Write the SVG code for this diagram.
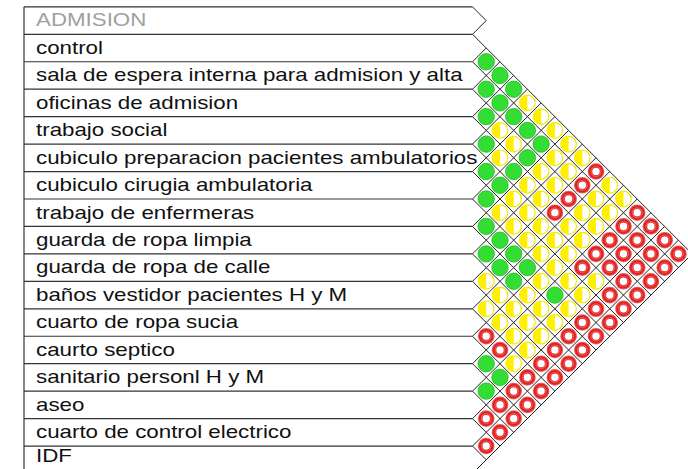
<svg xmlns="http://www.w3.org/2000/svg" xmlns:xlink="http://www.w3.org/1999/xlink" width="688" height="469" viewBox="0 0 688 469">
<style>
.row line{stroke:#333;stroke-width:1.2}
.lbl{font-family:"Liberation Sans",Arial,sans-serif;font-size:18.6px;fill:#111}
.hdr{fill:#a0a0a0}
#grid path{stroke:#222;stroke-width:1;fill:none}
</style>
<defs>
<g id="G"><circle r="8.2" fill="#33dd33" stroke="#22bb22" stroke-width="0.8"/></g>
<g id="Y"><circle r="7.8" fill="#fff" stroke="#f2ea00" stroke-width="1.2"/><path d="M0,-7.8A7.8,7.8 0 0 0 0,7.8Z" fill="#fff000"/></g>
<g id="R"><circle r="8.3" fill="#f05656"/><circle r="6.4" fill="none" stroke="#dd2222" stroke-width="1.8"/><circle r="4.1" fill="#fff" stroke="#dd2222" stroke-width="0.8"/></g>
</defs>
<rect width="688" height="469" fill="#fff"/>
<g id="rows" class="row">
<line x1="24" y1="6.85" x2="24" y2="473.5"/>
<line x1="24" y1="6.85" x2="472.5" y2="6.85"/>
<line x1="24" y1="34.3" x2="472.5" y2="34.3"/>
<line x1="24" y1="61.75" x2="472.5" y2="61.75"/>
<line x1="24" y1="89.2" x2="472.5" y2="89.2"/>
<line x1="24" y1="116.65" x2="472.5" y2="116.65"/>
<line x1="24" y1="144.1" x2="472.5" y2="144.1"/>
<line x1="24" y1="171.55" x2="472.5" y2="171.55"/>
<line x1="24" y1="199" x2="472.5" y2="199"/>
<line x1="24" y1="226.45" x2="472.5" y2="226.45"/>
<line x1="24" y1="253.9" x2="472.5" y2="253.9"/>
<line x1="24" y1="281.35" x2="472.5" y2="281.35"/>
<line x1="24" y1="308.8" x2="472.5" y2="308.8"/>
<line x1="24" y1="336.25" x2="472.5" y2="336.25"/>
<line x1="24" y1="363.7" x2="472.5" y2="363.7"/>
<line x1="24" y1="391.15" x2="472.5" y2="391.15"/>
<line x1="24" y1="418.6" x2="472.5" y2="418.6"/>
<line x1="24" y1="446.05" x2="472.5" y2="446.05"/>
</g>
<g id="grid">
<path d="M472.5 6.85L486.2 20.6L472.5 34.3"/>
<path d="M472.5 34.3l219.6 219.6"/>
<path d="M472.5 61.75l205.875 205.875M472.5 61.75l13.725 -13.725"/>
<path d="M472.5 89.2l192.15 192.15M472.5 89.2l27.45 -27.45"/>
<path d="M472.5 116.65l178.425 178.425M472.5 116.65l41.175 -41.175"/>
<path d="M472.5 144.1l164.7 164.7M472.5 144.1l54.9 -54.9"/>
<path d="M472.5 171.55l150.975 150.975M472.5 171.55l68.625 -68.625"/>
<path d="M472.5 199l137.25 137.25M472.5 199l82.35 -82.35"/>
<path d="M472.5 226.45l123.525 123.525M472.5 226.45l96.075 -96.075"/>
<path d="M472.5 253.9l109.8 109.8M472.5 253.9l109.8 -109.8"/>
<path d="M472.5 281.35l96.075 96.075M472.5 281.35l123.525 -123.525"/>
<path d="M472.5 308.8l82.35 82.35M472.5 308.8l137.25 -137.25"/>
<path d="M472.5 336.25l68.625 68.625M472.5 336.25l150.975 -150.975"/>
<path d="M472.5 363.7l54.9 54.9M472.5 363.7l164.7 -164.7"/>
<path d="M472.5 391.15l41.175 41.175M472.5 391.15l178.425 -178.425"/>
<path d="M472.5 418.6l27.45 27.45M472.5 418.6l192.15 -192.15"/>
<path d="M472.5 446.05l13.725 13.725M472.5 446.05l205.875 -205.875"/>
<path d="M472.5 473.5l219.6 -219.6"/>
</g>
<g id="labels" transform="translate(36 0) scale(1.2 1)">
<g id="n-admision"><text class="lbl hdr" x="0" y="26.2">ADMISION</text></g>
<g id="n-control"><text class="lbl" x="0" y="53.9">control</text></g>
<g id="n-sala"><text class="lbl" x="0" y="81.35">sala de espera interna para admision y alta</text></g>
<g id="n-oficinas"><text class="lbl" x="0" y="108.8">oficinas de admision</text></g>
<g id="n-trabajo-social"><text class="lbl" x="0" y="136.25">trabajo social</text></g>
<g id="n-cub-prep"><text class="lbl" x="0" y="163.7">cubiculo preparacion pacientes ambulatorios</text></g>
<g id="n-cub-cir"><text class="lbl" x="0" y="191.15">cubiculo cirugia ambulatoria</text></g>
<g id="n-enfermeras"><text class="lbl" x="0" y="218.6">trabajo de enfermeras</text></g>
<g id="n-ropa-limpia"><text class="lbl" x="0" y="246.05">guarda de ropa limpia</text></g>
<g id="n-ropa-calle"><text class="lbl" x="0" y="273.5">guarda de ropa de calle</text></g>
<g id="n-banos"><text class="lbl" x="0" y="300.95">baños vestidor pacientes H y M</text></g>
<g id="n-ropa-sucia"><text class="lbl" x="0" y="328.4">cuarto de ropa sucia</text></g>
<g id="n-septico"><text class="lbl" x="0" y="355.85">caurto septico</text></g>
<g id="n-sanitario"><text class="lbl" x="0" y="383.3">sanitario personl H y M</text></g>
<g id="n-aseo"><text class="lbl" x="0" y="410.75">aseo</text></g>
<g id="n-electrico"><text class="lbl" x="0" y="438.2">cuarto de control electrico</text></g>
<g id="n-idf"><text class="lbl" x="0" y="462.5">IDF</text></g>
</g>
<g id="matrix">
<use href="#G" x="486.2" y="61.8"/>
<use href="#G" x="500" y="75.5"/>
<use href="#G" x="486.2" y="89.2"/><use href="#G" x="513.7" y="89.2"/>
<use href="#G" x="500" y="102.9"/><use href="#Y" x="527.4" y="102.9"/>
<use href="#G" x="486.2" y="116.6"/><use href="#G" x="513.7" y="116.6"/><use href="#Y" x="541.1" y="116.6"/>
<use href="#Y" x="500" y="130.4"/><use href="#G" x="527.4" y="130.4"/><use href="#Y" x="554.9" y="130.4"/>
<use href="#G" x="486.2" y="144.1"/><use href="#Y" x="513.7" y="144.1"/><use href="#G" x="541.1" y="144.1"/><use href="#Y" x="568.6" y="144.1"/>
<use href="#Y" x="500" y="157.8"/><use href="#G" x="527.4" y="157.8"/><use href="#Y" x="554.9" y="157.8"/><use href="#Y" x="582.3" y="157.8"/>
<use href="#G" x="486.2" y="171.5"/><use href="#G" x="513.7" y="171.5"/><use href="#Y" x="541.1" y="171.5"/><use href="#Y" x="568.6" y="171.5"/><use href="#R" x="596" y="171.5"/>
<use href="#G" x="500" y="185.3"/><use href="#Y" x="527.4" y="185.3"/><use href="#Y" x="554.9" y="185.3"/><use href="#R" x="582.3" y="185.3"/><use href="#Y" x="609.8" y="185.3"/>
<use href="#G" x="486.2" y="199"/><use href="#Y" x="513.7" y="199"/><use href="#Y" x="541.1" y="199"/><use href="#R" x="568.6" y="199"/><use href="#Y" x="596" y="199"/><use href="#Y" x="623.5" y="199"/>
<use href="#Y" x="500" y="212.7"/><use href="#Y" x="527.4" y="212.7"/><use href="#R" x="554.9" y="212.7"/><use href="#Y" x="582.3" y="212.7"/><use href="#Y" x="609.8" y="212.7"/><use href="#R" x="637.2" y="212.7"/>
<use href="#G" x="486.2" y="226.4"/><use href="#Y" x="513.7" y="226.4"/><use href="#Y" x="541.1" y="226.4"/><use href="#Y" x="568.6" y="226.4"/><use href="#Y" x="596" y="226.4"/><use href="#R" x="623.5" y="226.4"/><use href="#R" x="650.9" y="226.4"/>
<use href="#G" x="500" y="240.2"/><use href="#Y" x="527.4" y="240.2"/><use href="#Y" x="554.9" y="240.2"/><use href="#Y" x="582.3" y="240.2"/><use href="#R" x="609.8" y="240.2"/><use href="#R" x="637.2" y="240.2"/><use href="#R" x="664.7" y="240.2"/>
<use href="#G" x="486.2" y="253.9"/><use href="#G" x="513.7" y="253.9"/><use href="#Y" x="541.1" y="253.9"/><use href="#Y" x="568.6" y="253.9"/><use href="#R" x="596" y="253.9"/><use href="#R" x="623.5" y="253.9"/><use href="#R" x="650.9" y="253.9"/><use href="#R" x="678.4" y="253.9"/>
<use href="#G" x="500" y="267.6"/><use href="#G" x="527.4" y="267.6"/><use href="#Y" x="554.9" y="267.6"/><use href="#R" x="582.3" y="267.6"/><use href="#R" x="609.8" y="267.6"/><use href="#R" x="637.2" y="267.6"/><use href="#R" x="664.7" y="267.6"/>
<use href="#Y" x="486.2" y="281.3"/><use href="#G" x="513.7" y="281.3"/><use href="#Y" x="541.1" y="281.3"/><use href="#Y" x="568.6" y="281.3"/><use href="#Y" x="596" y="281.3"/><use href="#R" x="623.5" y="281.3"/><use href="#R" x="650.9" y="281.3"/>
<use href="#Y" x="500" y="295.1"/><use href="#Y" x="527.4" y="295.1"/><use href="#G" x="554.9" y="295.1"/><use href="#Y" x="582.3" y="295.1"/><use href="#R" x="609.8" y="295.1"/><use href="#R" x="637.2" y="295.1"/>
<use href="#Y" x="486.2" y="308.8"/><use href="#Y" x="513.7" y="308.8"/><use href="#Y" x="541.1" y="308.8"/><use href="#Y" x="568.6" y="308.8"/><use href="#R" x="596" y="308.8"/><use href="#R" x="623.5" y="308.8"/>
<use href="#Y" x="500" y="322.5"/><use href="#Y" x="527.4" y="322.5"/><use href="#Y" x="554.9" y="322.5"/><use href="#R" x="582.3" y="322.5"/><use href="#R" x="609.8" y="322.5"/>
<use href="#R" x="486.2" y="336.2"/><use href="#Y" x="513.7" y="336.2"/><use href="#Y" x="541.1" y="336.2"/><use href="#R" x="568.6" y="336.2"/><use href="#R" x="596" y="336.2"/>
<use href="#R" x="500" y="350"/><use href="#Y" x="527.4" y="350"/><use href="#R" x="554.9" y="350"/><use href="#R" x="582.3" y="350"/>
<use href="#G" x="486.2" y="363.7"/><use href="#Y" x="513.7" y="363.7"/><use href="#R" x="541.1" y="363.7"/><use href="#R" x="568.6" y="363.7"/>
<use href="#G" x="500" y="377.4"/><use href="#R" x="527.4" y="377.4"/><use href="#R" x="554.9" y="377.4"/>
<use href="#G" x="486.2" y="391.1"/><use href="#R" x="513.7" y="391.1"/><use href="#R" x="541.1" y="391.1"/>
<use href="#R" x="500" y="404.9"/><use href="#R" x="527.4" y="404.9"/>
<use href="#R" x="486.2" y="418.6"/><use href="#R" x="513.7" y="418.6"/>
<use href="#R" x="500" y="432.3"/>
<use href="#R" x="486.2" y="446"/>
</g>
</svg>
